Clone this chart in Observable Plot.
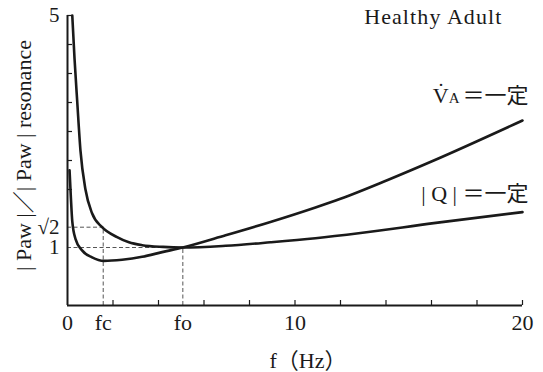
<!DOCTYPE html>
<html>
<head>
<meta charset="utf-8">
<script src="https://cdn.jsdelivr.net/npm/d3@7"></script>
<script src="https://cdn.jsdelivr.net/npm/@observablehq/plot@0.6"></script>
<style>
  html, body { margin: 0; padding: 0; background: #fff; }
</style>
</head>
<body>
<div id="chart"></div>
<script>
// ---- data ----
// |Q| = const curve (frequency in Hz, normalized |Paw|)
const qFreq = [0.21, 0.31, 0.43, 0.57, 0.79, 1.08, 1.52, 2.18, 2.7, 3.28, 4.2, 5.07, 6.95, 8.92, 10.9, 12.88, 16.1, 20];
const qValue = [5.0, 4.25, 3.5, 2.67, 2.0, 1.59, 1.35, 1.18, 1.09, 1.04, 1.01, 1.0, 1.03, 1.09, 1.16, 1.25, 1.42, 1.61];
// V̇A = const curve
const vFreq = [0.09, 0.15, 0.21, 0.35, 0.64, 1.08, 1.6, 2.4, 3.28, 4.16, 5.07, 6.95, 8.92, 10.9, 12.0, 14.05, 16.1, 20];
const vValue = [2.33, 1.85, 1.45, 1.15, 0.95, 0.83, 0.77, 0.79, 0.84, 0.92, 1.0, 1.21, 1.44, 1.69, 1.84, 2.16, 2.5, 3.19];

// characteristic frequencies and levels
const fc = 1.57, fo = 5.07;
const sqrt2Level = 1.35;   // where the "√2" guide is drawn in the picture

// ticks and labels
const xTickValues = [0, fc, fo, 10, 20];
const xTickLabels = ["0", "fc", "fo", "10", "20"];
const xMinorTicks = [2, 4, 6, 8, 10, 12, 14, 16, 18, 20];
const yTickValues = [1, sqrt2Level, 5];
const yTickLabels = ["1", "√2", "5"];
const yMinorTicks = [2, 2.5, 3, 3.5, 4, 4.5, 5];

const titleText = "Healthy Adult";
const vLabel = "V\u0307A＝一定";
const qLabel = "| Q | ＝一定";
const xLabel = "f（Hz）";
const yLabel = "| Paw |／| Paw | resonance";

// ---- build tables ----
const qData = qFreq.map((f, i) => ({f, v: qValue[i]}));
const vData = vFreq.map((f, i) => ({f, v: vValue[i]}));
const xLabelMap = new Map(xTickValues.map((d, i) => [d, xTickLabels[i]]));
const yLabelMap = new Map(yTickValues.map((d, i) => [d, yTickLabels[i]]));
const hGuides = [{y: 1, x2: fo}, {y: sqrt2Level, x2: fc}];
const vGuides = [{x: fc, y2: sqrt2Level}, {x: fo, y2: 1}];

const ink = "#1a1a1a";
const font = "'Liberation Serif', 'Noto Sans CJK JP', serif";

const chart = Plot.plot({
  width: 543,
  height: 372,
  marginLeft: 67,
  marginRight: 21,
  marginTop: 15,
  marginBottom: 67,
  style: {fontFamily: font, fontSize: "22px", color: ink, background: "#fff"},
  x: {domain: [0, 20]},
  y: {domain: [0, 5]},
  marks: [
    // dashed guides
    Plot.ruleY(hGuides, {y: "y", x1: 0, x2: "x2", stroke: "#555", strokeWidth: 1, strokeDasharray: "4,2.5"}),
    Plot.ruleX(vGuides, {x: "x", y1: 0, y2: "y2", stroke: "#555", strokeWidth: 1, strokeDasharray: "4,2.5"}),
    // axis lines
    Plot.ruleY([0], {stroke: ink, strokeWidth: 2}),
    Plot.ruleX([0], {stroke: ink, strokeWidth: 2}),
    // inward minor ticks (zero-length rules extended by a negative inset)
    Plot.ruleX(xMinorTicks, {x: d => d, y1: 0, y2: 0, insetBottom: 5, stroke: ink, strokeWidth: 1.2}),
    Plot.ruleY(yMinorTicks, {y: d => d, x1: 0, x2: 0, insetRight: -5, stroke: ink, strokeWidth: 1.2}),
    // labelled ticks
    Plot.axisX(xTickValues, {tickSize: 0, tickPadding: 9, tickFormat: d => xLabelMap.get(d), fontSize: 22, fill: ink, label: null}),
    Plot.axisY(yTickValues, {tickSize: 0, tickPadding: 8, tickFormat: d => yLabelMap.get(d), fontSize: 21, fill: ink, label: null}),
    // curves
    Plot.line(qData, {x: "f", y: "v", curve: "monotone-x", stroke: ink, strokeWidth: 2.6}),
    Plot.line(vData, {x: "f", y: "v", curve: "monotone-x", stroke: ink, strokeWidth: 2.6}),
    // annotations
    Plot.text([titleText], {frameAnchor: "top-right", textAnchor: "end", lineAnchor: "middle", dx: -20, dy: 1, fontSize: 22, fill: ink}),
    Plot.text([vLabel], {frameAnchor: "top-right", textAnchor: "end", lineAnchor: "middle", dx: 6, dy: 80, fontSize: 22, fill: ink}),
    Plot.text([qLabel], {frameAnchor: "top-right", textAnchor: "end", lineAnchor: "middle", dx: 6, dy: 178, fontSize: 22, fill: ink}),
    Plot.text([xLabel], {frameAnchor: "bottom", textAnchor: "middle", lineAnchor: "middle", dx: 13, dy: 55, fontSize: 22, fill: ink}),
    Plot.text([yLabel], {frameAnchor: "left", textAnchor: "middle", rotate: -90, lineAnchor: "middle", dx: -44, dy: -5, fontSize: 22, fill: ink})
  ]
});

// typographic touches: letter spacing and the small-capital subscript A
const svg = d3.select(chart);
svg.selectAll("text").filter(function () { return this.textContent === titleText; })
  .style("letter-spacing", "1.1px");
svg.selectAll("text").filter(function () { return this.textContent === vLabel; })
  .each(function () {
    const t = d3.select(this);
    t.text(null);
    t.append("tspan").text("V\u0307");
    t.append("tspan").attr("font-size", 15).text("A");
    t.append("tspan").attr("dx", 3).text("＝一定");
  });

document.getElementById("chart").appendChild(chart);
</script>
</body>
</html>
